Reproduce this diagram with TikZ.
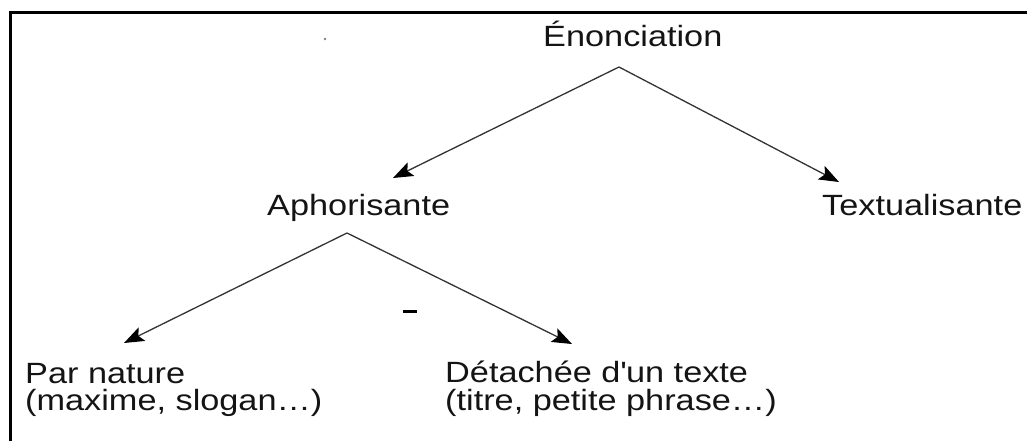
\documentclass[tikz,border=0pt]{standalone}
\usepackage{fontspec}
\setmainfont[FakeStretch=1.17]{Liberation Sans}
\usetikzlibrary{arrows.meta}
\definecolor{ink}{HTML}{141414}
\definecolor{wire}{HTML}{333333}
\tikzset{
  label text/.style={anchor=base west, inner sep=0pt, text=ink,
    font=\fontsize{29.3}{29.3}\selectfont},
  branch/.style={draw=wire, line width=1.3pt,
    -{Stealth[length=20pt, width=15pt, inset=4pt, color=black]}},
}
\begin{document}
\begin{tikzpicture}[x=1pt, y=-1pt]
  \useasboundingbox (0,0) rectangle (1027,441);
  % frame (top and left sides)
  \draw[line width=3pt, black] (10,445) -- (10,13) -- (1032,13);
  % stray marks
  \fill[gray] (325,39) circle (1.3pt);
  \draw[line width=3pt, black] (403,311) -- (417,311);

  % labels
  \node[label text] (enon) at (543,47) {Énonciation};
  \node[label text] (aphor) at (267,215) {Aphorisante};
  \node[label text] (textu) at (822,215) {Textualisante};
  \node[label text] (nat1) at (25,383) {Par nature};
  \node[label text] (nat2) at (25,410) {(maxime, slogan…)};
  \node[label text] (det1) at (445,382) {Détachée d\textquotesingle un texte};
  \node[label text] (det2) at (445,410) {(titre, petite phrase…)};

  % branch points and arrow ends
  \coordinate (enonApex) at (619,67);
  \coordinate (aphorTip) at (393,178);
  \coordinate (textuTip) at (839,182);
  \coordinate (aphorApex) at (347,233);
  \coordinate (natTip) at (124,343);
  \coordinate (detTip) at (572,344);

  \draw[branch] (enonApex) -- (aphorTip);
  \draw[branch] (enonApex) -- (textuTip);
  \draw[branch] (aphorApex) -- (natTip);
  \draw[branch] (aphorApex) -- (detTip);
\end{tikzpicture}
\end{document}
